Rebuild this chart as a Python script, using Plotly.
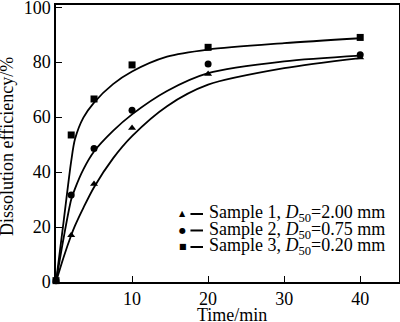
import plotly.graph_objects as go

# Measured dissolution efficiency (%) at each sampling time (min)
time_pts = [0, 2, 5, 10, 20, 40]
sample1 = [0.5, 17.0, 35.7, 56.0, 75.7, 81.7]
sample2 = [0.5, 31.7, 48.6, 62.5, 79.3, 82.7]
sample3 = [0.5, 53.5, 66.6, 79.0, 85.4, 89.0]

# Fitted kinetic curves evaluated at these times
time_fit = [0, 1, 2, 2.5, 3.6, 5, 7.5, 10, 14.6, 20, 30, 40]
fit1 = [0, 9.0, 17.0, 20.5, 27.0, 34.5, 45.0, 53.1, 64.0, 71.8, 77.8, 81.5]
fit2 = [0, 16.0, 30.0, 34.0, 41.0, 47.5, 55.0, 61.0, 69.5, 76.0, 80.3, 82.4]
fit3 = [0, 22.0, 44.0, 52.0, 59.8, 65.3, 72.0, 76.6, 82.0, 84.6, 86.9, 88.7]

legend_labels = [
    "Sample 1, <i>D</i><sub>50</sub>=2.00 mm",
    "Sample 2, <i>D</i><sub>50</sub>=0.75 mm",
    "Sample 3, <i>D</i><sub>50</sub>=0.20 mm",
]
legend_glyphs = ["▲", "●", "■"]

x_ticks = [10, 20, 30, 40]
y_ticks = [0, 20, 40, 60, 80, 100]

FONT = "Liberation Serif"
BLACK = "#000000"

fig = go.Figure()

series = [
    (fit1, sample1, "triangle-up", 7),
    (fit2, sample2, "circle", 7),
    (fit3, sample3, "square", 7),
]
for fit, meas, sym, size in series:
    fig.add_trace(go.Scatter(
        x=time_fit, y=fit, mode="lines",
        line=dict(color=BLACK, width=1.8, shape="spline", smoothing=0.8),
        showlegend=False, hoverinfo="skip",
    ))
    fig.add_trace(go.Scatter(
        x=time_pts, y=meas, mode="markers",
        marker=dict(symbol=sym, size=size, color=BLACK),
        showlegend=False, cliponaxis=False,
    ))

# Compact legend: glyph, short dash and label on each row
rows_y = [0.2455, 0.186, 0.1264]
for glyph, label, yy in zip(legend_glyphs, legend_labels, rows_y):
    fig.add_annotation(
        xref="paper", yref="paper", x=0.370, y=yy,
        xanchor="center", yanchor="middle", showarrow=False,
        text=glyph, font=dict(family="DejaVu Sans", size=8, color=BLACK),
    )
    fig.add_shape(
        type="line", xref="paper", yref="paper",
        x0=0.392, x1=0.4286, y0=yy, y1=yy,
        line=dict(color=BLACK, width=2),
    )
    fig.add_annotation(
        xref="paper", yref="paper", x=0.441, y=yy,
        xanchor="left", yanchor="middle", showarrow=False,
        text=label, font=dict(family=FONT, size=18, color=BLACK),
    )

# Axis titles
fig.add_annotation(
    xref="paper", yref="paper", x=0.513, y=-0.119,
    xanchor="center", yanchor="middle", showarrow=False,
    text="Time/min", font=dict(family=FONT, size=18, color=BLACK),
)
fig.add_annotation(
    xref="paper", yref="paper", x=-0.1429, y=0.491,
    xanchor="center", yanchor="middle", showarrow=False, textangle=-90,
    text="Dissolution efficiency/%", font=dict(family=FONT, size=18, color=BLACK),
)

axis_common = dict(
    showline=True, linecolor=BLACK, linewidth=1.5, mirror=True,
    ticks="inside", ticklen=6, tickwidth=1.3, tickcolor=BLACK,
    showgrid=False, zeroline=False, ticklabeloverflow="allow",
    automargin=False,
    tickfont=dict(family=FONT, size=18, color=BLACK),
)

fig.update_layout(
    width=400, height=322,
    margin=dict(l=56, r=1, t=5, b=40),
    paper_bgcolor="white", plot_bgcolor="white",
    xaxis=dict(range=[0, 45.1], tickvals=x_ticks, **axis_common),
    yaxis=dict(range=[0, 100.8], tickvals=y_ticks, **axis_common),
)

fig.write_html("out.html")
